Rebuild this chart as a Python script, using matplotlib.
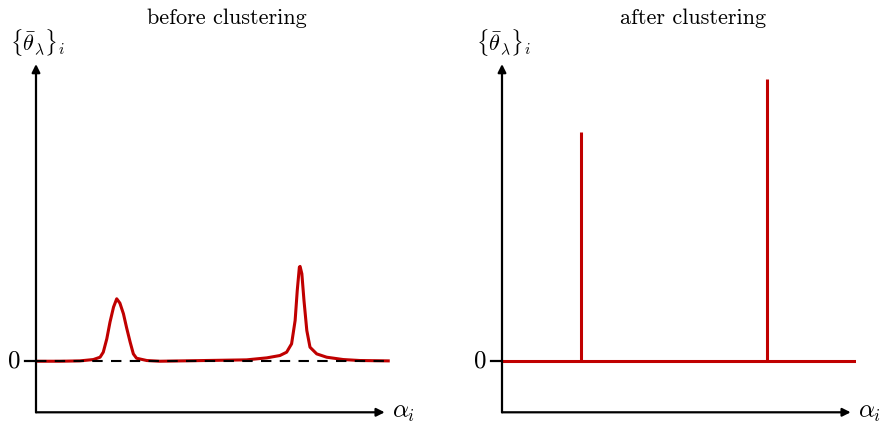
import matplotlib
matplotlib.use("Agg")
import matplotlib.pyplot as plt

plt.rcParams['mathtext.fontset'] = 'cm'

# smooth curve before clustering
before_x = [0.0, 0.68, 1.24, 1.62, 1.81, 1.90, 2.00, 2.09, 2.19, 2.28, 2.37, 2.47,
            2.56, 2.66, 2.75, 2.84, 3.13, 3.50, 5.95, 6.52, 6.89, 7.08, 7.22,
            7.32, 7.38, 7.44, 7.46, 7.51, 7.57, 7.65, 7.74, 7.93, 8.21, 8.68,
            9.15, 9.95]
before_y = [0.0, 0.0, 0.007, 0.033, 0.079, 0.177, 0.439, 0.765, 1.06, 1.223, 1.138,
            0.929, 0.654, 0.373, 0.144, 0.059, 0.014, 0.0, 0.027, 0.066, 0.112,
            0.177, 0.341, 0.798, 1.386, 1.844, 1.857, 1.713, 1.19, 0.602, 0.275,
            0.144, 0.079, 0.033, 0.014, 0.007]

# spikes after clustering
spike_x = [2.22, 7.48]
spike_h = [4.48, 5.52]
after_x = [0.0, 9.99]
after_y = [0.0, 0.0]

titles = ['before clustering', 'after clustering']
red = '#c00000'

fig = plt.figure(figsize=(8.8, 4.23), dpi=100)
axes = [fig.add_axes((36 / 880, 0.0253, 354 / 880, 0.845)),
        fig.add_axes((502 / 880, 0.0253, 354 / 880, 0.845))]

for ax, title in zip(axes, titles):
    ax.set_xlim(0, 10)
    ax.set_ylim(-1, 6)
    ax.axis('off')
    # axis arrows
    ax.annotate('', xy=(9.85, -1), xytext=(0, -1),
                arrowprops=dict(arrowstyle='-|>', lw=1.6, color='k',
                                mutation_scale=12, shrinkA=0, shrinkB=0),
                annotation_clip=False)
    ax.annotate('', xy=(0, 5.82), xytext=(0, -1),
                arrowprops=dict(arrowstyle='-|>', lw=1.6, color='k',
                                mutation_scale=12, shrinkA=0, shrinkB=0),
                annotation_clip=False)
    ax.plot([-0.3, 0], [0, 0], color='k', lw=1.6, clip_on=False)
    ax.text(-0.62, 0, '0', fontsize=18, family='cmr10', ha='center', va='center')
    ax.text(0.05, 6.25, r'$\{\bar{\theta}_\lambda\}_i$', fontsize=16,
            ha='center', va='center')
    ax.text(10.38, -1, r'$\alpha_i$', fontsize=18, ha='center', va='center')
    ax.text(5.4, 6.72, title, fontsize=16, family='cmr10',
            ha='center', va='center')

ax = axes[0]
ax.plot(before_x, before_y, color=red, lw=2.2, solid_joinstyle='round', zorder=2)
ax.plot([0, 9.95], [0, 0], color='k', lw=1.5, ls=(0, (5, 4)), zorder=3)

ax = axes[1]
ax.plot(after_x, after_y, color=red, lw=2.2, zorder=2)
ax.vlines(spike_x, 0, spike_h, color=red, lw=2.2, zorder=2)

fig.savefig('out.png', dpi=100)
